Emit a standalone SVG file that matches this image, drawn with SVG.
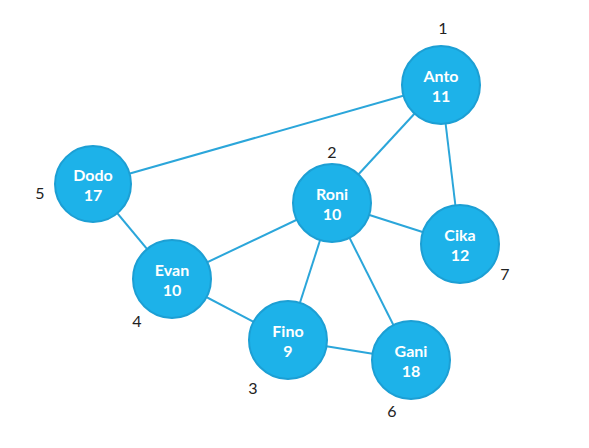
<svg xmlns="http://www.w3.org/2000/svg" width="589" height="448" viewBox="0 0 589 448">
<style>
.edge{stroke:#2BA6DA;stroke-width:2;fill:none}
.node circle{fill:#1DB2E9;stroke:#1C9FD4;stroke-width:2}
.node text{font-family:Lato,"Open Sans","Liberation Sans",sans-serif;font-weight:bold;font-size:16px;fill:#FFFFFF;text-anchor:middle}
.num{font-family:Lato,"Open Sans","Liberation Sans",sans-serif;font-size:16px;fill:#222222;text-anchor:middle}
</style>
<rect width="589" height="448" fill="#FFFFFF"/>
<g id="connectors">
<line class="edge" x1="441" y1="85" x2="93" y2="184"/>
<line class="edge" x1="441" y1="85" x2="332" y2="203"/>
<line class="edge" x1="441" y1="85" x2="460" y2="244"/>
<line class="edge" x1="93" y1="184" x2="172" y2="279"/>
<line class="edge" x1="332" y1="203" x2="172" y2="279"/>
<line class="edge" x1="332" y1="203" x2="460" y2="244"/>
<line class="edge" x1="332" y1="203" x2="288" y2="340"/>
<line class="edge" x1="332" y1="203" x2="411" y2="360"/>
<line class="edge" x1="172" y1="279" x2="288" y2="340"/>
<line class="edge" x1="288" y1="340" x2="411" y2="360"/>
</g>
<g id="anto" class="node"><circle cx="441" cy="85" r="39"/><text x="441" y="82">Anto</text><text x="441" y="102">11</text></g>
<g id="dodo" class="node"><circle cx="93" cy="184" r="38"/><text x="93" y="181">Dodo</text><text x="93" y="201">17</text></g>
<g id="roni" class="node"><circle cx="332" cy="203" r="39"/><text x="332" y="200">Roni</text><text x="332" y="220">10</text></g>
<g id="cika" class="node"><circle cx="460" cy="244" r="39"/><text x="460" y="241">Cika</text><text x="460" y="261">12</text></g>
<g id="evan" class="node"><circle cx="172" cy="279" r="39"/><text x="172" y="276">Evan</text><text x="172" y="296">10</text></g>
<g id="fino" class="node"><circle cx="288" cy="340" r="39"/><text x="288" y="337">Fino</text><text x="288" y="357">9</text></g>
<g id="gani" class="node"><circle cx="411" cy="360" r="39"/><text x="411" y="357">Gani</text><text x="411" y="377">18</text></g>
<g id="numbers">
<text class="num" x="443" y="34">1</text>
<text class="num" x="332" y="158">2</text>
<text class="num" x="253" y="394">3</text>
<text class="num" x="137" y="327">4</text>
<text class="num" x="40" y="199">5</text>
<text class="num" x="392" y="417">6</text>
<text class="num" x="505" y="280">7</text>
</g>
</svg>
